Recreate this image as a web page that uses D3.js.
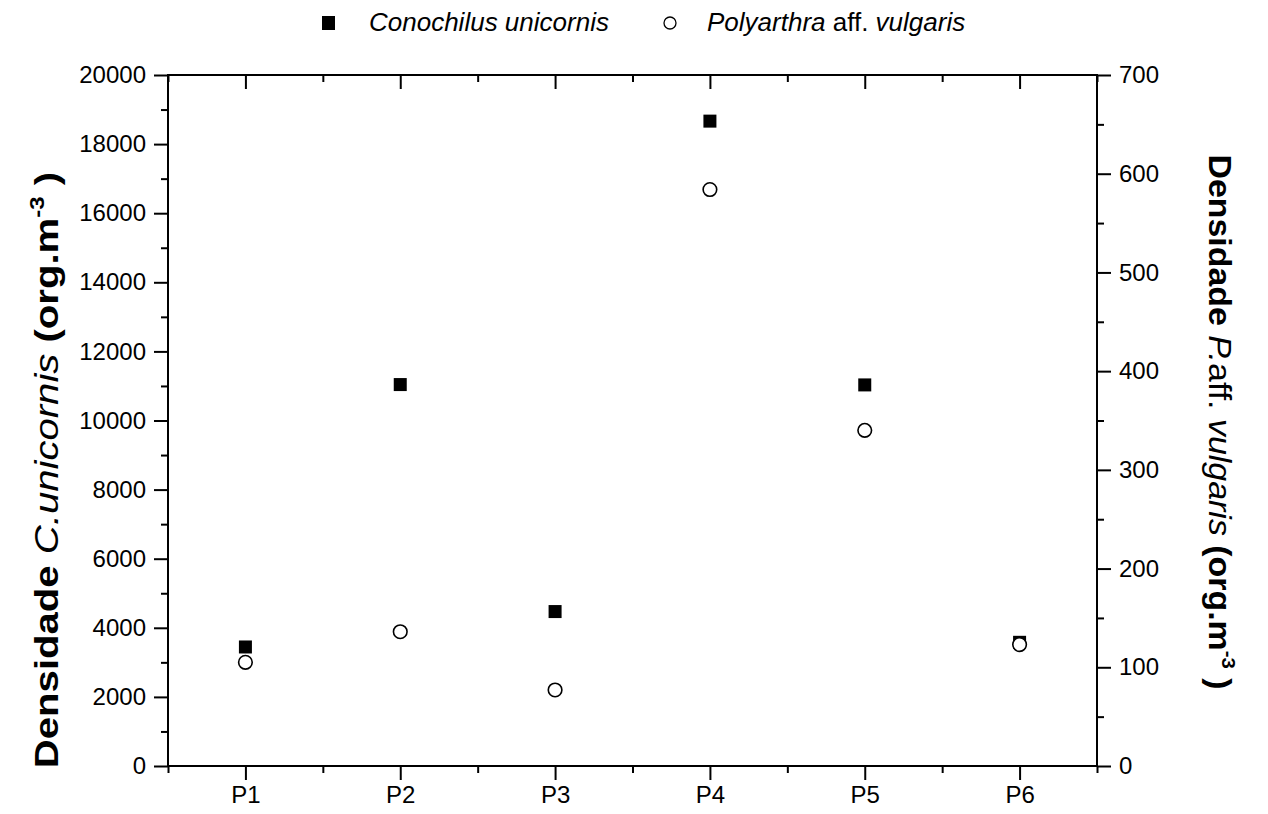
<!DOCTYPE html>
<html>
<head>
<meta charset="utf-8">
<script src="https://cdn.jsdelivr.net/npm/d3@7"></script>
<style>
  html, body { margin: 0; padding: 0; background: #fff; }
  svg { display: block; font-family: "Liberation Sans", Arial, sans-serif; }
</style>
</head>
<body>
<svg id="chart" width="1268" height="814"></svg>
<script>
// Sampling points along the x axis
const sites = ["P1", "P2", "P3", "P4", "P5", "P6"];
// Conochilus unicornis density (org.m-3), left axis
const conochilus = [3445, 11040, 4470, 18665, 11030, 3580];
// Polyarthra aff. vulgaris density (org.m-3), right axis
const polyarthra = [105, 136, 77, 584, 340, 123];
// Axis tick values
const leftTicks = d3.range(0, 20001, 2000);
const leftMinor = d3.range(1000, 20000, 2000);
const rightTicks = d3.range(0, 701, 100);
const rightMinor = d3.range(50, 700, 100);

const svg = d3.select("#chart");
const plotL = 168, plotR = 1097, plotT = 75, plotB = 766;
const tickFont = 24;

const x = d3.scaleLinear().domain([0.5, sites.length + 0.5]).range([plotL, plotR]);
const yL = d3.scaleLinear().domain([0, 20000]).range([plotB, plotT]);
const yR = d3.scaleLinear().domain([0, 700]).range([plotB, plotT]);

const xMajor = sites.map((d, i) => i + 1);
const xMinor = d3.range(0.5, sites.length + 1, 1);

function styleTicks(g) {
  g.select(".domain").remove();
  g.selectAll(".tick line").attr("stroke", "#000").attr("stroke-width", 2);
  g.selectAll(".tick text").attr("fill", "#000").attr("font-size", tickFont)
    .attr("font-family", "Liberation Sans, Arial, sans-serif");
}

// Bottom axis
const gB = svg.append("g").attr("transform", `translate(0,${plotB})`);
gB.append("g").call(d3.axisBottom(x).tickValues(xMinor).tickSize(7).tickFormat("")).call(styleTicks);
gB.append("g").call(d3.axisBottom(x).tickValues(xMajor).tickSize(14).tickPadding(6)
  .tickFormat(d => sites[d - 1])).call(styleTicks);

// Top axis, ticks pointing inward
const gT = svg.append("g").attr("transform", `translate(0,${plotT})`);
gT.append("g").call(d3.axisBottom(x).tickValues(xMinor).tickSize(7).tickFormat("")).call(styleTicks);
gT.append("g").call(d3.axisBottom(x).tickValues(xMajor).tickSize(14).tickFormat("")).call(styleTicks);

// Left axis
const gL = svg.append("g").attr("transform", `translate(${plotL},0)`);
gL.append("g").call(d3.axisLeft(yL).tickValues(leftMinor).tickSize(7).tickFormat("")).call(styleTicks);
gL.append("g").call(d3.axisLeft(yL).tickValues(leftTicks).tickSize(14).tickPadding(8)
  .tickFormat(d3.format("d"))).call(styleTicks);

// Right axis
const gR = svg.append("g").attr("transform", `translate(${plotR},0)`);
gR.append("g").call(d3.axisRight(yR).tickValues(rightMinor).tickSize(7).tickFormat("")).call(styleTicks);
gR.append("g").call(d3.axisRight(yR).tickValues(rightTicks).tickSize(14).tickPadding(8)
  .tickFormat(d3.format("d"))).call(styleTicks);

// Frame
svg.append("rect").attr("x", plotL).attr("y", plotT).attr("width", plotR - plotL).attr("height", plotB - plotT)
  .attr("fill", "none").attr("stroke", "#000").attr("stroke-width", 2);

// Markers
const sq = 13;
svg.append("g").selectAll("rect").data(conochilus).join("rect")
  .attr("x", (d, i) => x(i + 1) - sq / 2)
  .attr("y", d => yL(d) - sq / 2)
  .attr("width", sq).attr("height", sq)
  .attr("fill", "#000");

svg.append("g").selectAll("circle").data(polyarthra).join("circle")
  .attr("cx", (d, i) => x(i + 1))
  .attr("cy", d => yR(d))
  .attr("r", 6.8)
  .attr("fill", "#fff").attr("stroke", "#000").attr("stroke-width", 1.6);

// Axis titles (set in a tall, stretched face along their length)
function axisTitle(tx, ty, angle, size, stretch, parts) {
  const t = svg.append("text")
    .attr("transform", `translate(${tx},${ty}) rotate(${angle}) scale(${stretch},1)`)
    .attr("text-anchor", "middle").attr("font-size", size).attr("font-weight", "bold").attr("fill", "#000");
  parts.forEach(p => {
    const s = t.append("tspan").text(p.text);
    if (p.italic) s.attr("font-style", "italic");
    if (p.normal) s.attr("font-weight", "normal");
    if (p.sup) s.attr("font-size", size * 0.6).attr("dy", -size * 0.4);
    if (p.after) s.attr("dy", size * 0.4);
  });
}
axisTitle(58, 470, -90, 34, 1.18, [
  { text: "Densidade " },
  { text: "C.unicornis", italic: true, normal: true },
  { text: " (org.m" },
  { text: "-3", sup: true },
  { text: " )", after: true }
]);
axisTitle(1209, 422, 90, 32, 1.06, [
  { text: "Densidade " },
  { text: "P.", italic: true, normal: true },
  { text: "aff. ", normal: true },
  { text: "vulgaris", italic: true, normal: true },
  { text: " (org.m" },
  { text: "-3", sup: true },
  { text: " )", after: true }
]);

// Legend
const lg = svg.append("g").attr("font-size", 26).attr("fill", "#000");
lg.append("rect").attr("x", 322).attr("y", 16).attr("width", 13).attr("height", 14).attr("fill", "#000");
lg.append("text").attr("x", 369).attr("y", 31).attr("font-style", "italic").text("Conochilus unicornis");
lg.append("circle").attr("cx", 670).attr("cy", 23).attr("r", 6).attr("fill", "#fff").attr("stroke", "#000").attr("stroke-width", 1.3);
const lt2 = lg.append("text").attr("x", 707).attr("y", 31);
lt2.append("tspan").attr("font-style", "italic").text("Polyarthra");
lt2.append("tspan").text(" aff. ");
lt2.append("tspan").attr("font-style", "italic").text("vulgaris");
</script>
</body>
</html>
